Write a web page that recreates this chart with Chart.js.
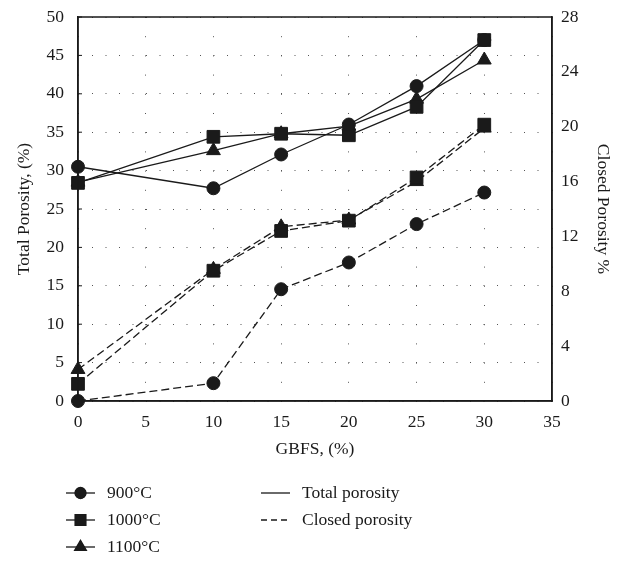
<!DOCTYPE html>
<html>
<head>
<meta charset="utf-8">
<script src="https://cdn.jsdelivr.net/npm/chart.js@4.4.1/dist/chart.umd.min.js"></script>
<style>
    html, body { margin: 0; padding: 0; background: #fff; }
    #wrap { width: 623px; height: 561px; }
</style>
</head>
<body>
<div id="wrap"><canvas id="chart" width="623" height="561"></canvas></div>
<script>
// GBFS content (%)
const gbfs = [0, 10, 15, 20, 25, 30];

// total porosity, left axis (%)
const total900 = [30.5, 27.7, 32.1, 36.0, 41.0, 47.0];
const total1000 = [28.4, 34.4, 34.8, 34.6, 38.3, 47.0];
const total1100 = [28.5, 32.6, 34.8, 35.8, 39.3, 44.4];

// closed porosity, right axis (%)
const closed900 = [0, 1.3, 8.15, 10.1, 12.9, 15.2];
const closed1000 = [1.25, 9.5, 12.4, 13.15, 16.3, 20.15];
const closed1100 = [2.3, 9.6, 12.7, 13.2, 16.0, 19.9];

const leftTicks = [0, 5, 10, 15, 20, 25, 30, 35, 40, 45, 50];
const rightTicks = [0, 4, 8, 12, 16, 20, 24, 28];
const xTicks = [0, 5, 10, 15, 20, 25, 30, 35];

const seriesNames = ["900°C", "1000°C", "1100°C"];
const markers = ["circle", "rect", "triangle"];
const markerSizes = [6.5, 9, 8];

const police = "'Liberation Serif', 'DejaVu Serif', serif";
const taille = 17.5;

function points(values) {
    return gbfs.map((g, i) => ({ x: g, y: values[i] }));
}

function serie(label, values, idx, axe, dashed) {
    return {
        label: label,
        data: points(values),
        yAxisID: axe,
        borderColor: "#1a1a1a",
        backgroundColor: "#1a1a1a",
        borderWidth: 1.3,
        borderDash: dashed ? [8, 4] : [],
        pointStyle: markers[idx],
        pointRadius: markerSizes[idx],
        pointHoverRadius: markerSizes[idx],
        pointBorderWidth: 1,
        tension: 0,
        fill: false,
        clip: false
    };
}

const cadre = {
    id: "cadre",
    afterDraw(chart) {
        const ctx = chart.ctx;
        const a = chart.chartArea;
        ctx.save();
        ctx.strokeStyle = "#1a1a1a";
        ctx.lineWidth = 1.5;
        ctx.strokeRect(a.left, a.top, a.right - a.left, a.bottom - a.top);

        // petites graduations internes sur l'axe de gauche
        const sy = chart.scales.y;
        ctx.lineWidth = 1;
        leftTicks.forEach(v => {
            const y = sy.getPixelForValue(v);
            ctx.beginPath();
            ctx.moveTo(a.left, y);
            ctx.lineTo(a.left + 4, y);
            ctx.stroke();
        });

        // légende
        ctx.font = taille + "px " + police;
        ctx.fillStyle = "#1a1a1a";
        ctx.textBaseline = "middle";
        const rows = [493, 520, 547];
        seriesNames.forEach((nom, i) => {
            const y = rows[i];
            ctx.setLineDash([]);
            ctx.lineWidth = 1.3;
            ctx.beginPath();
            ctx.moveTo(66, y);
            ctx.lineTo(95, y);
            ctx.stroke();
            Chart.helpers.drawPoint(ctx, {
                pointStyle: markers[i],
                radius: markerSizes[i] * 0.85,
                borderWidth: 1
            }, 80.5, y);
            ctx.fill();
            ctx.fillText(nom, 107, y);
        });
        ctx.lineWidth = 1.3;
        ctx.beginPath();
        ctx.moveTo(261, rows[0]);
        ctx.lineTo(290, rows[0]);
        ctx.stroke();
        ctx.fillText("Total porosity", 302, rows[0]);
        ctx.setLineDash([6, 4]);
        ctx.beginPath();
        ctx.moveTo(261, rows[1]);
        ctx.lineTo(290, rows[1]);
        ctx.stroke();
        ctx.setLineDash([]);
        ctx.fillText("Closed porosity", 302, rows[1]);
        ctx.restore();
    }
};

const texte = { family: police, size: taille };

function largeur(w) {
    return (s) => {
        s.width = w;
        s.paddingTop = 0;
        s.paddingBottom = 0;
    };
}

new Chart(document.getElementById("chart"), {
    type: "line",
    data: {
        datasets: [
            serie("900°C", total900, 0, "y", false),
            serie("1000°C", total1000, 1, "y", false),
            serie("1100°C", total1100, 2, "y", false),
            serie("900°C closed", closed900, 0, "y1", true),
            serie("1000°C closed", closed1000, 1, "y1", true),
            serie("1100°C closed", closed1100, 2, "y1", true)
        ]
    },
    options: {
        responsive: false,
        animation: false,
        layout: { padding: { top: 17, bottom: 100, left: 0, right: 0 } },
        plugins: {
            legend: { display: false },
            tooltip: { enabled: false }
        },
        scales: {
            x: {
                type: "linear",
                min: 0,
                max: 35,
                afterBuildTicks: (s) => { s.ticks = xTicks.map(v => ({ value: v })); },
                afterFit: (s) => { s.height = 60; s.paddingLeft = 0; s.paddingRight = 0; },
                ticks: { color: "#1a1a1a", font: texte, padding: 11 },
                grid: { color: "#555", drawTicks: false },
                border: { display: true, color: "#1a1a1a", width: 1.5, dash: [1, 18.2] },
                title: { display: true, text: "GBFS, (%)", color: "#1a1a1a", font: texte, padding: { top: 4, bottom: 1 } }
            },
            y: {
                position: "left",
                min: 0,
                max: 50,
                afterBuildTicks: (s) => { s.ticks = leftTicks.map(v => ({ value: v })); },
                afterFit: largeur(78),
                ticks: { color: "#1a1a1a", font: texte, padding: 14 },
                grid: { color: "#555", drawTicks: false },
                border: { display: true, color: "#1a1a1a", width: 1.5, dash: [1, 12.5] },
                title: { display: true, text: "Total Porosity, (%)", color: "#1a1a1a", font: texte, padding: { top: 14, bottom: 0 } }
            },
            y1: {
                position: "right",
                min: 0,
                max: 28,
                afterBuildTicks: (s) => { s.ticks = rightTicks.map(v => ({ value: v })); },
                afterFit: largeur(71),
                ticks: { color: "#1a1a1a", font: texte, padding: 9 },
                grid: { display: false, drawTicks: false },
                border: { display: true, color: "#1a1a1a", width: 1.5 },
                title: { display: true, text: "Closed Porosity %", color: "#1a1a1a", font: texte, padding: { top: 10, bottom: 0 } }
            }
        }
    },
    plugins: [cadre]
});
</script>
</body>
</html>
